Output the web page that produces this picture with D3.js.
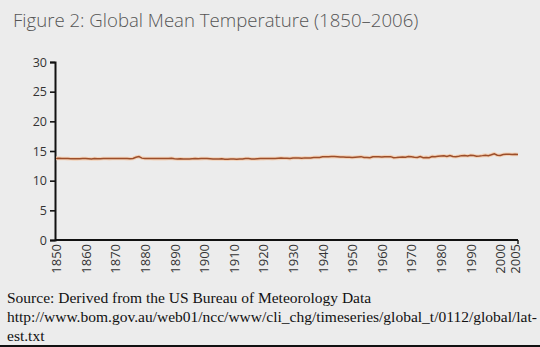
<!DOCTYPE html>
<html>
<head>
<meta charset="utf-8">
<script src="https://cdn.jsdelivr.net/npm/d3@7"></script>
<style>
  html,body{margin:0;padding:0;background:#ececec;}
  svg{display:block;}
</style>
</head>
<body>
<div id="chart"></div>
<script>
/* global mean temperature, annual, 1850-2006 */
const START_YEAR = 1850;
const TEMPS = [
  13.75,13.76,13.74,13.73,13.72,13.70,13.68,13.68,13.70,13.72,
  13.74,13.70,13.66,13.72,13.68,13.70,13.74,13.73,13.72,13.74,
  13.74,13.73,13.74,13.73,13.72,13.70,13.74,13.95,14.05,13.80,
  13.74,13.74,13.73,13.72,13.72,13.72,13.72,13.72,13.73,13.76,
  13.70,13.66,13.68,13.64,13.65,13.66,13.70,13.72,13.70,13.72,
  13.74,13.73,13.70,13.66,13.64,13.66,13.68,13.62,13.62,13.64,
  13.64,13.62,13.66,13.64,13.72,13.74,13.66,13.64,13.68,13.72,
  13.72,13.74,13.73,13.72,13.73,13.76,13.80,13.78,13.78,13.72,
  13.82,13.84,13.83,13.76,13.84,13.82,13.84,13.90,13.92,13.90,
  14.02,14.05,14.05,14.06,14.08,14.05,14.00,13.98,13.96,13.96,
  13.90,13.96,14.00,14.05,13.92,13.90,13.85,14.02,14.04,14.02,
  14.00,14.05,14.02,14.05,13.88,13.90,13.95,13.98,13.94,14.06,
  14.02,13.94,13.90,14.06,13.88,13.92,13.86,14.08,14.02,14.10,
  14.14,14.18,14.06,14.22,14.06,14.04,14.10,14.22,14.24,14.16,
  14.28,14.24,14.12,14.16,14.22,14.30,14.20,14.36,14.54,14.28,
  14.26,14.40,14.44,14.45,14.42,14.46,14.42
];
const X_TICKS = [1850,1860,1870,1880,1890,1900,1910,1920,1930,1940,1950,1960,1970,1980,1990,2000,2005];
const Y_TICKS = [0,5,10,15,20,25,30];
const TITLE = "Figure 2: Global Mean Temperature (1850\u20132006)";
const SOURCE = [
  "Source: Derived from the US Bureau of Meteorology Data",
  "http://www.bom.gov.au/web01/ncc/www/cli_chg/timeseries/global_t/0112/global/lat-",
  "est.txt"
];

const W = 540, H = 347;
const M = {left:55, right:22, top:62, bottom:107};

const data = TEMPS.map((t,i)=>({year:START_YEAR+i, t}));

const svg = d3.select("#chart").append("svg").attr("width",W).attr("height",H);

svg.append("rect").attr("width",W).attr("height",H).attr("fill","#ececec");

// title
svg.append("text").attr("x",13).attr("y",27)
  .style("font-family","'Open Sans', sans-serif").style("font-weight",300)
  .style("font-size","18.6px").attr("fill","#555").text(TITLE);

const x = d3.scaleLinear().domain([1850,2006]).range([M.left+1, W-M.right]);
const y = d3.scaleLinear().domain([0,30]).range([H-M.bottom, M.top]);

const g = svg.append("g");

// y axis
const yAx = g.append("g").attr("transform",`translate(${M.left},0)`)
  .call(d3.axisLeft(y).tickValues(Y_TICKS).tickSize(5).tickPadding(3));
yAx.select(".domain").attr("stroke","#111").attr("stroke-width",2);
yAx.selectAll(".tick line").attr("stroke","#111").attr("stroke-width",1.6);
yAx.selectAll(".tick text").attr("fill","#333")
  .style("font-family","'Open Sans', sans-serif").style("font-size","12.5px");

// x axis
const xAx = g.append("g").attr("transform",`translate(0,${y(0)})`)
  .call(d3.axisBottom(x).tickValues(X_TICKS).tickFormat(d3.format("d")).tickSize(0).tickSizeOuter(0));
xAx.select(".domain").attr("stroke","#111").attr("stroke-width",2)
  .attr("d",`M${M.left},0H${x(2006)}`);
xAx.selectAll(".tick text").attr("fill","#333")
  .style("font-family","'Open Sans', sans-serif").style("font-size","13px")
  .attr("text-anchor","end").attr("dy","0.35em")
  .attr("transform","translate(0,4) rotate(-90)").attr("y",0).attr("x",0);
xAx.append("line").attr("x1",x(2006)).attr("x2",x(2006)).attr("y1",0).attr("y2",4)
  .attr("stroke","#111").attr("stroke-width",1.4);

// temperature line
const line = d3.line().x(d=>x(d.year)).y(d=>y(d.t));
g.append("path").datum(data).attr("fill","none")
  .attr("stroke","#f3d2b8").attr("stroke-width",3.6).attr("d",line);
g.append("path").datum(data).attr("fill","none")
  .attr("stroke","#9c4e2a").attr("stroke-width",1.5).attr("d",line);

// source note
svg.append("g").selectAll("text").data(SOURCE).join("text")
  .attr("x",7).attr("y",(d,i)=>303+i*19)
  .style("font-family","'Liberation Serif', 'Times New Roman', serif")
  .style("font-size","15.5px").attr("fill","#111").text(d=>d);

svg.append("line").attr("x1",0).attr("x2",W).attr("y1",H-1).attr("y2",H-1)
  .attr("stroke","#111").attr("stroke-width",2);
</script>
</body>
</html>
